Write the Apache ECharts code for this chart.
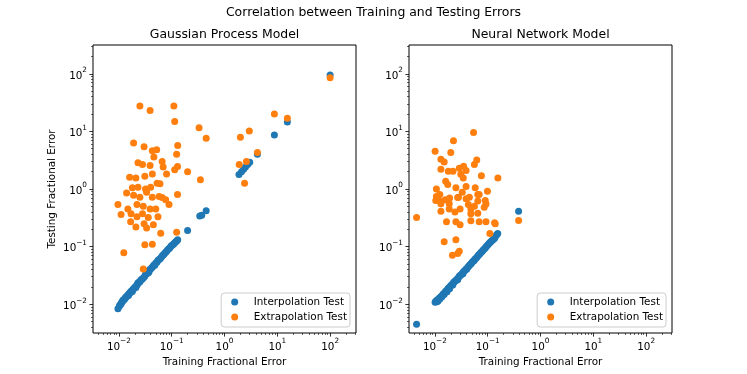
<!DOCTYPE html>
<html>
<head>
<meta charset="utf-8">
<script src="https://cdn.jsdelivr.net/npm/echarts@6.0.0/dist/echarts.min.js"></script>
<style>
  html, body { margin: 0; padding: 0; background: #fff; }
  #chart { width: 747px; height: 374px; }
</style>
</head>
<body>
<div id="chart"></div>
<script>
const FONT = 'DejaVu Sans';
const BLUE = '#1f77b4';
const ORANGE = '#ff7f0e';

const seriesNames = ['Interpolation Test', 'Extrapolation Test'];
const panelTitles = ['Gaussian Process Model', 'Neural Network Model'];
const mainTitle = 'Correlation between Training and Testing Errors';
const xName = 'Training Fractional Error';
const yName = 'Testing Fractional Error';
const majorExponents = [-2, -1, 0, 1, 2];

// [training error, testing error]
const gpInterp = [
  [0.0096, 0.0083], [0.0102, 0.0092], [0.0105, 0.0098], [0.011, 0.0101], [0.0113, 0.0108],
  [0.0118, 0.0112], [0.012, 0.0118], [0.0125, 0.012], [0.013, 0.0124], [0.0133, 0.0131],
  [0.0138, 0.0134], [0.0142, 0.0137], [0.0148, 0.0145], [0.0152, 0.0141], [0.0155, 0.0152],
  [0.016, 0.0156], [0.0166, 0.016], [0.017, 0.0167], [0.0176, 0.0172], [0.018, 0.0166],
  [0.0185, 0.018], [0.019, 0.0187], [0.0198, 0.0192], [0.0205, 0.0201], [0.021, 0.0195],
  [0.0218, 0.0213], [0.0225, 0.0222], [0.023, 0.0235], [0.024, 0.0238], [0.025, 0.0245],
  [0.026, 0.0262], [0.027, 0.0268], [0.028, 0.0276], [0.0295, 0.029], [0.031, 0.0305],
  [0.032, 0.033], [0.0335, 0.034], [0.035, 0.0345], [0.037, 0.036], [0.038, 0.0395],
  [0.04, 0.041], [0.042, 0.043], [0.044, 0.045], [0.046, 0.048], [0.048, 0.0475],
  [0.05, 0.052], [0.053, 0.054], [0.055, 0.058], [0.058, 0.06], [0.061, 0.062],
  [0.064, 0.066], [0.067, 0.07], [0.07, 0.072], [0.073, 0.076], [0.077, 0.08],
  [0.08, 0.083], [0.084, 0.088], [0.088, 0.092], [0.092, 0.095], [0.096, 0.1],
  [0.1, 0.104], [0.105, 0.108], [0.11, 0.112], [0.115, 0.118], [0.12, 0.122],
  [0.125, 0.126], [0.13, 0.132], [0.2, 0.19], [0.34, 0.34], [0.37, 0.35],
  [0.45, 0.42], [1.88, 1.78], [2.1, 2.0], [2.3, 2.2], [2.5, 2.4],
  [2.75, 2.65], [3.0, 2.9], [4.2, 4.0], [8.8, 8.7], [15.5, 14.5], [100, 95]
];

const gpExtrap = [
  [0.025, 27.5], [0.039, 23], [0.11, 27.5], [0.114, 14.8], [0.33, 11.6], [0.45, 7.6],
  [0.019, 6.3], [0.030, 5.4], [0.043, 4.6], [0.052, 4.8], [0.046, 3.6], [0.13, 5.7],
  [0.124, 4.0], [0.023, 2.85], [0.028, 2.65], [0.039, 2.55], [0.066, 3.0], [0.069, 2.4],
  [0.129, 2.46], [0.080, 1.83], [0.114, 2.15], [0.20, 2.0], [0.016, 1.6], [0.021, 1.56],
  [0.031, 1.66], [0.043, 1.83], [0.053, 1.26], [0.060, 1.23], [0.35, 1.45], [0.018, 1.05],
  [0.023, 1.07], [0.032, 1.0], [0.040, 1.07], [0.014, 0.85], [0.019, 0.78], [0.025, 0.72],
  [0.0335, 0.88], [0.043, 0.72], [0.058, 0.74], [0.077, 0.65], [0.089, 0.54], [0.129, 0.80],
  [0.0096, 0.54], [0.0148, 0.45], [0.022, 0.54], [0.029, 0.50], [0.039, 0.45], [0.050, 0.45],
  [0.066, 0.71], [0.011, 0.36], [0.017, 0.37], [0.022, 0.33], [0.028, 0.37], [0.036, 0.32],
  [0.0167, 0.27], [0.021, 0.22], [0.030, 0.25], [0.0335, 0.21], [0.045, 0.24], [0.055, 0.33],
  [0.062, 0.17], [0.124, 0.177], [0.031, 0.108], [0.043, 0.11], [0.0124, 0.0785], [0.029, 0.041],
  [2.4, 1.26], [1.9, 2.65], [2.6, 3.0], [4.2, 4.3], [2.0, 7.9], [2.95, 10.2],
  [8.8, 20], [15.5, 17], [100, 85]
];

const nnInterp = [
  [0.0045, 0.0045], [0.0101, 0.0108], [0.0104, 0.0112], [0.0108, 0.011], [0.011, 0.0118],
  [0.0114, 0.0113], [0.0118, 0.012], [0.012, 0.0127], [0.0125, 0.0124], [0.0128, 0.0132],
  [0.0132, 0.0138], [0.0136, 0.0135], [0.014, 0.0145], [0.0145, 0.0152], [0.015, 0.0148],
  [0.0155, 0.016], [0.016, 0.0168], [0.0165, 0.0172], [0.017, 0.0165], [0.0176, 0.0183],
  [0.018, 0.019], [0.0186, 0.0195], [0.019, 0.0186], [0.0196, 0.0205], [0.0202, 0.0212],
  [0.021, 0.022], [0.0218, 0.0215], [0.0225, 0.0236], [0.023, 0.0242], [0.024, 0.025],
  [0.025, 0.0258], [0.026, 0.0272], [0.027, 0.0265], [0.028, 0.0292], [0.029, 0.0305],
  [0.030, 0.0315], [0.0315, 0.0325], [0.033, 0.0345], [0.034, 0.0338], [0.035, 0.037],
  [0.037, 0.0385], [0.039, 0.041], [0.04, 0.0405], [0.042, 0.044], [0.044, 0.046],
  [0.046, 0.0485], [0.048, 0.05], [0.05, 0.0525], [0.052, 0.055], [0.055, 0.057],
  [0.057, 0.0605], [0.06, 0.063], [0.063, 0.066], [0.066, 0.07], [0.069, 0.073],
  [0.072, 0.076], [0.075, 0.0795], [0.079, 0.083], [0.082, 0.087], [0.086, 0.091],
  [0.09, 0.095], [0.094, 0.1], [0.098, 0.104], [0.103, 0.11], [0.108, 0.115],
  [0.113, 0.12], [0.118, 0.125], [0.124, 0.13], [0.13, 0.136], [0.135, 0.14],
  [0.14, 0.15], [0.148, 0.16], [0.155, 0.168], [0.385, 0.41]
];

const nnExtrap = [
  [0.0045, 0.32], [0.385, 0.285], [0.054, 9.6], [0.0225, 6.9], [0.0101, 4.5], [0.020, 4.3],
  [0.013, 3.3], [0.015, 2.95], [0.013, 2.2], [0.062, 3.2], [0.056, 2.65], [0.018, 2.04],
  [0.022, 2.03], [0.029, 2.3], [0.035, 2.48], [0.039, 2.1], [0.031, 1.8], [0.0345, 1.55],
  [0.076, 1.7], [0.156, 1.55], [0.016, 1.36], [0.0175, 1.2], [0.0107, 1.0], [0.025, 1.05],
  [0.039, 1.1], [0.058, 1.05], [0.099, 0.91], [0.0107, 0.74], [0.0124, 0.80], [0.033, 0.88],
  [0.028, 0.72], [0.065, 0.80], [0.0104, 0.63], [0.012, 0.63], [0.013, 0.555], [0.0157, 0.65],
  [0.0187, 0.555], [0.019, 0.70], [0.027, 0.71], [0.039, 0.68], [0.045, 0.72], [0.043, 0.54],
  [0.065, 0.62], [0.069, 0.80], [0.090, 0.63], [0.086, 0.48], [0.093, 0.55], [0.056, 0.50],
  [0.013, 0.41], [0.0187, 0.45], [0.024, 0.40], [0.030, 0.45], [0.048, 0.45], [0.065, 0.38],
  [0.048, 0.37], [0.0166, 0.27], [0.025, 0.27], [0.030, 0.24], [0.048, 0.28], [0.069, 0.27],
  [0.093, 0.27], [0.135, 0.26], [0.139, 0.25], [0.110, 0.168], [0.015, 0.122], [0.025, 0.132],
  [0.0215, 0.071], [0.027, 0.076], [0.029, 0.083]
];

const X_RANGE = [-2.49, 2.49];
const Y_RANGE = [-2.5, 2.5];

function toLog(points) {
  return points.map(p => [Math.log10(p[0]), Math.log10(p[1])]);
}

function minorTicks(range) {
  const out = [];
  for (let e = -3; e <= 2; e++) {
    for (let k = 2; k <= 9; k++) {
      const v = e + Math.log10(k);
      if (v >= range[0] && v <= range[1]) out.push(v);
    }
  }
  return out;
}

function expLabel(v) {
  const e = Math.round(v);
  return '{b|10}{s|' + (e < 0 ? '\u2212' + (-e) : e) + '}';
}

const expRich = {
  b: { fontSize: 10.4, fontFamily: FONT, color: '#000', lineHeight: 14, verticalAlign: 'bottom' },
  s: { fontSize: 7.3, fontFamily: FONT, color: '#000', lineHeight: 7, verticalAlign: 'top' }
};

const textStyle = { fontFamily: FONT, color: '#000' };

function makeAxes(dim, gridIndex, range, withName) {
  const major = {
    type: 'value', gridIndex, min: range[0], max: range[1],
    position: dim === 'x' ? 'bottom' : 'left',
    axisLine: { show: false, onZero: false },
    splitLine: { show: false },
    axisTick: { show: true, customValues: majorExponents, length: 3.6, lineStyle: { color: '#000', width: 0.8 } },
    axisLabel: { customValues: majorExponents, formatter: expLabel, rich: expRich, margin: dim === 'x' ? 5 : 6 }
  };
  if (withName) {
    Object.assign(major, {
      name: dim === 'x' ? xName : yName,
      nameLocation: 'middle',
      nameGap: dim === 'x' ? 14 : 36,
      nameRotate: dim === 'x' ? 0 : 90,
      nameTextStyle: Object.assign({ fontSize: 10.4 }, textStyle)
    });
  }
  const minor = {
    type: 'value', gridIndex, min: range[0], max: range[1],
    position: dim === 'x' ? 'bottom' : 'left',
    axisLine: { show: false, onZero: false },
    splitLine: { show: false },
    axisTick: { show: true, customValues: minorTicks(range), length: 2, lineStyle: { color: '#000', width: 0.6 } },
    axisLabel: { show: false }
  };
  return [major, minor];
}

function legendAt(right) {
  return {
    data: seriesNames,
    orient: 'vertical',
    right, bottom: 47,
    icon: 'circle',
    itemWidth: 8, itemHeight: 7, itemGap: 3,
    padding: [3, 3, 4, 10],
    backgroundColor: 'rgba(255,255,255,0.8)',
    borderColor: '#cccccc', borderWidth: 1, borderRadius: 3,
    selectedMode: false,
    textStyle: Object.assign({ fontSize: 10.4, lineHeight: 12, padding: [0, 0, 0, 10] }, textStyle)
  };
}

function scatter(name, color, data, idx) {
  return {
    type: 'scatter', name,
    xAxisIndex: idx * 2, yAxisIndex: idx * 2,
    data: toLog(data),
    symbol: 'circle', symbolSize: 7,
    itemStyle: { color, opacity: 1 },
    emphasis: { disabled: true }
  };
}

const chart = echarts.init(document.getElementById('chart'), null, { renderer: 'canvas' });

chart.setOption({
  animation: false,
  backgroundColor: '#fff',
  title: [
    { text: mainTitle, left: 373.5, top: 7, textAlign: 'center', padding: 0,
      textStyle: Object.assign({ fontSize: 12.45, fontWeight: 'normal' }, textStyle) },
    { text: panelTitles[0], left: 224.5, top: 29, textAlign: 'center', padding: 0,
      textStyle: Object.assign({ fontSize: 12.45, fontWeight: 'normal' }, textStyle) },
    { text: panelTitles[1], left: 540.5, top: 29, textAlign: 'center', padding: 0,
      textStyle: Object.assign({ fontSize: 12.45, fontWeight: 'normal' }, textStyle) }
  ],
  grid: [
    { left: 93, top: 45, width: 263, height: 288, show: true, borderColor: '#000', borderWidth: 1, backgroundColor: 'transparent' },
    { left: 409, top: 45, width: 263, height: 288, show: true, borderColor: '#000', borderWidth: 1, backgroundColor: 'transparent' }
  ],
  xAxis: [...makeAxes('x', 0, X_RANGE, true), ...makeAxes('x', 1, X_RANGE, true)],
  yAxis: [...makeAxes('y', 0, Y_RANGE, true), ...makeAxes('y', 1, Y_RANGE, false)],
  legend: [legendAt(397), legendAt(81)],
  series: [
    scatter(seriesNames[0], BLUE, gpInterp, 0),
    scatter(seriesNames[1], ORANGE, gpExtrap, 0),
    scatter(seriesNames[0], BLUE, nnInterp, 1),
    scatter(seriesNames[1], ORANGE, nnExtrap, 1)
  ]
});
</script>
</body>
</html>
